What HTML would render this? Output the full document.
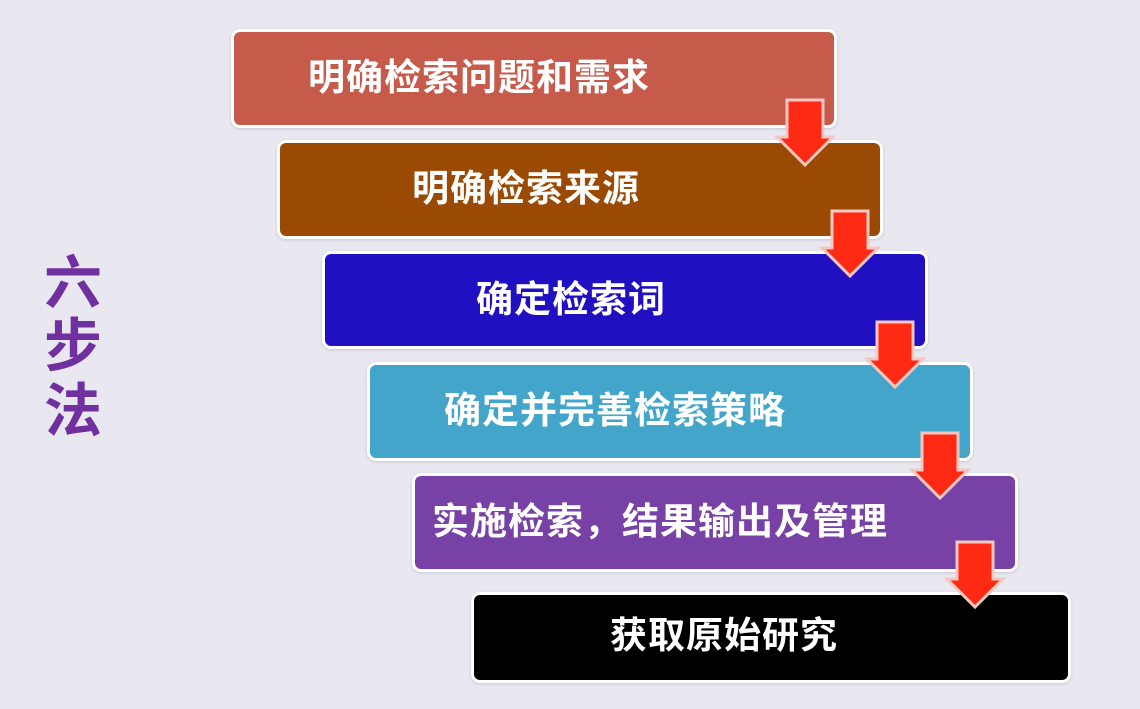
<!DOCTYPE html>
<html><head><meta charset="utf-8"><style>
body{margin:0;width:1140px;height:709px;background:#E9E8F1;position:relative;overflow:hidden;font-family:"Liberation Sans","Noto Sans CJK SC",sans-serif;}
.b{position:absolute;border:3px solid #fff;border-radius:9px;box-sizing:border-box;box-shadow:0 1px 3px rgba(0,0,0,.15);}
.t{position:absolute;color:#fff;font-weight:bold;font-size:37px;letter-spacing:1px;white-space:nowrap;line-height:1;}
.l{position:absolute;left:44px;color:#7030A0;font-weight:bold;font-size:58px;line-height:1;}
svg{position:absolute;left:0;top:0;}
</style></head><body>
<div class="b" style="left:231px;top:29px;width:606px;height:99px;background:#C65B4B"></div>
<div class="b" style="left:277px;top:140px;width:606px;height:99px;background:#9A4A02"></div>
<div class="b" style="left:322px;top:251px;width:606px;height:98px;background:#2010C2"></div>
<div class="b" style="left:367px;top:362px;width:606px;height:99px;background:#43A5C9"></div>
<div class="b" style="left:412px;top:473px;width:606px;height:99px;background:#7841A6"></div>
<div class="b" style="left:471px;top:592px;width:600px;height:91px;background:#000"></div>
<div class="t" style="left:308px;top:59px">明确检索问题和需求</div>
<div class="t" style="left:412px;top:170px">明确检索来源</div>
<div class="t" style="left:476px;top:281px">确定检索词</div>
<div class="t" style="left:444px;top:392px">确定并完善检索策略</div>
<div class="t" style="left:432px;top:503px">实施检索，结果输出及管理</div>
<div class="t" style="left:610px;top:617px">获取原始研究</div>
<div class="l" style="top:255px">六</div>
<div class="l" style="top:318px">步</div>
<div class="l" style="top:383px">法</div>
<svg width="1140" height="709">
<defs><g id="a"><polygon points="0,0 36,0 36,37 46,37 18,65 -10,37 0,37" fill="#FF2A14" stroke="#F4C8C0" stroke-width="3"/></g></defs>
<use href="#a" x="787" y="100"/>
<use href="#a" x="832" y="211"/>
<use href="#a" x="877" y="322"/>
<use href="#a" x="922" y="433"/>
<use href="#a" x="957" y="542"/>
</svg>
</body></html>
